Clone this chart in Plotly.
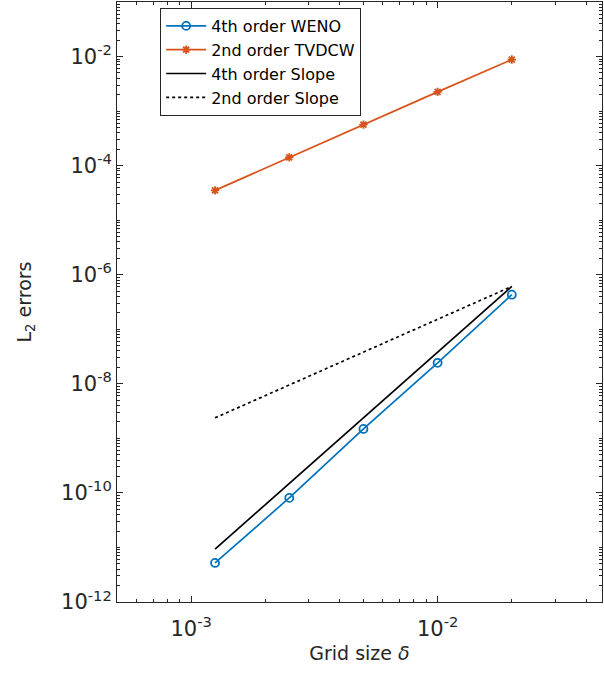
import plotly.graph_objects as go

# Grid spacings used in the convergence study
grid_size = [1.25e-3, 2.5e-3, 5e-3, 1e-2, 2e-2]

# L2 errors for each scheme
err_weno4 = [5.2e-12, 8.1e-11, 1.49e-9, 2.43e-8, 4.3e-7]
err_tvdcw2 = [3.52e-5, 1.42e-4, 5.65e-4, 2.25e-3, 8.8e-3]

# Reference slope lines (end points)
slope_x = [1.25e-3, 2e-2]
slope4 = [9.3e-12, 6.1e-7]
slope2 = [2.38e-9, 6.1e-7]

# Axis tick labels
y_tickvals = [1e-12, 1e-10, 1e-8, 1e-6, 1e-4, 1e-2]
y_ticktext = ["10<sup>-12</sup>", "10<sup>-10</sup>", "10<sup>-8</sup>",
              "10<sup>-6</sup>", "10<sup>-4</sup>", "10<sup>-2</sup>"]
x_tickvals = [1e-3, 1e-2]
x_ticktext = ["10<sup>-3</sup>", "10<sup>-2</sup>"]

BLUE = "#0072BD"
ORANGE = "#D95319"
AXIS = "#262626"
FONT = "DejaVu Sans, Liberation Sans, Arial, sans-serif"

fig = go.Figure()
fig.add_trace(go.Scatter(
    x=grid_size, y=err_weno4, mode="lines+markers", name="4th order WENO",
    line=dict(color=BLUE, width=1.7),
    marker=dict(symbol="circle-open", size=8, color=BLUE, line=dict(width=1.8)),
))
fig.add_trace(go.Scatter(
    x=grid_size, y=err_tvdcw2, mode="lines+markers", name="2nd order TVDCW",
    line=dict(color=ORANGE, width=1.7),
    marker=dict(symbol="asterisk-open", size=7, color=ORANGE, line=dict(width=1.8, color=ORANGE)),
))
fig.add_trace(go.Scatter(
    x=slope_x, y=slope4, mode="lines", name="4th order Slope",
    line=dict(color="black", width=1.7),
))
fig.add_trace(go.Scatter(
    x=slope_x, y=slope2, mode="lines", name="2nd order Slope",
    line=dict(color="black", width=1.7, dash="dot"),
))

# minor tick positions at 2..9 of each decade
x_minor = [m * 10.0 ** e for e in range(-4, -1) for m in range(2, 10)]
y_minor = [m * 10.0 ** e for e in range(-13, 0) for m in range(2, 10)]
y_minor += [10.0 ** e for e in range(-13, 0)]

axis_common = dict(
    showgrid=False, zeroline=False, showline=True, linecolor=AXIS, linewidth=1,
    mirror="allticks", ticks="inside", ticklen=6, tickcolor=AXIS, tickwidth=1,
    tickfont=dict(family=FONT, size=21, color=AXIS),
)

fig.update_xaxes(
    type="log", range=[-3.301, -1.333], tickmode="array",
    tickvals=x_tickvals, ticktext=x_ticktext, ticklabelstandoff=8,
    minor=dict(tickmode="array", tickvals=x_minor, ticks="inside", ticklen=3,
               tickcolor=AXIS),
    title=dict(text="Grid size <i>δ</i>", standoff=6,
               font=dict(family=FONT, size=19, color=AXIS)),
    **axis_common,
)
fig.update_yaxes(
    type="log", range=[-12, -1], tickmode="array",
    tickvals=y_tickvals, ticktext=y_ticktext,
    minor=dict(tickmode="array", tickvals=y_minor, ticks="inside", ticklen=3,
               tickcolor=AXIS),
    title=dict(text="L<sub>2</sub> errors", standoff=24,
               font=dict(family=FONT, size=19, color=AXIS)),
    **axis_common,
)

fig.update_layout(
    width=604, height=675,
    margin=dict(l=117, r=2, t=2, b=73),
    paper_bgcolor="white", plot_bgcolor="white",
    showlegend=True,
    legend=dict(
        x=0.089, y=0.99, xanchor="left", yanchor="top",
        bgcolor="white", bordercolor=AXIS, borderwidth=1,
        font=dict(family=FONT, size=16, color="black"),
        tracegroupgap=0, itemwidth=40,
    ),
)

fig.write_html("out.html")
